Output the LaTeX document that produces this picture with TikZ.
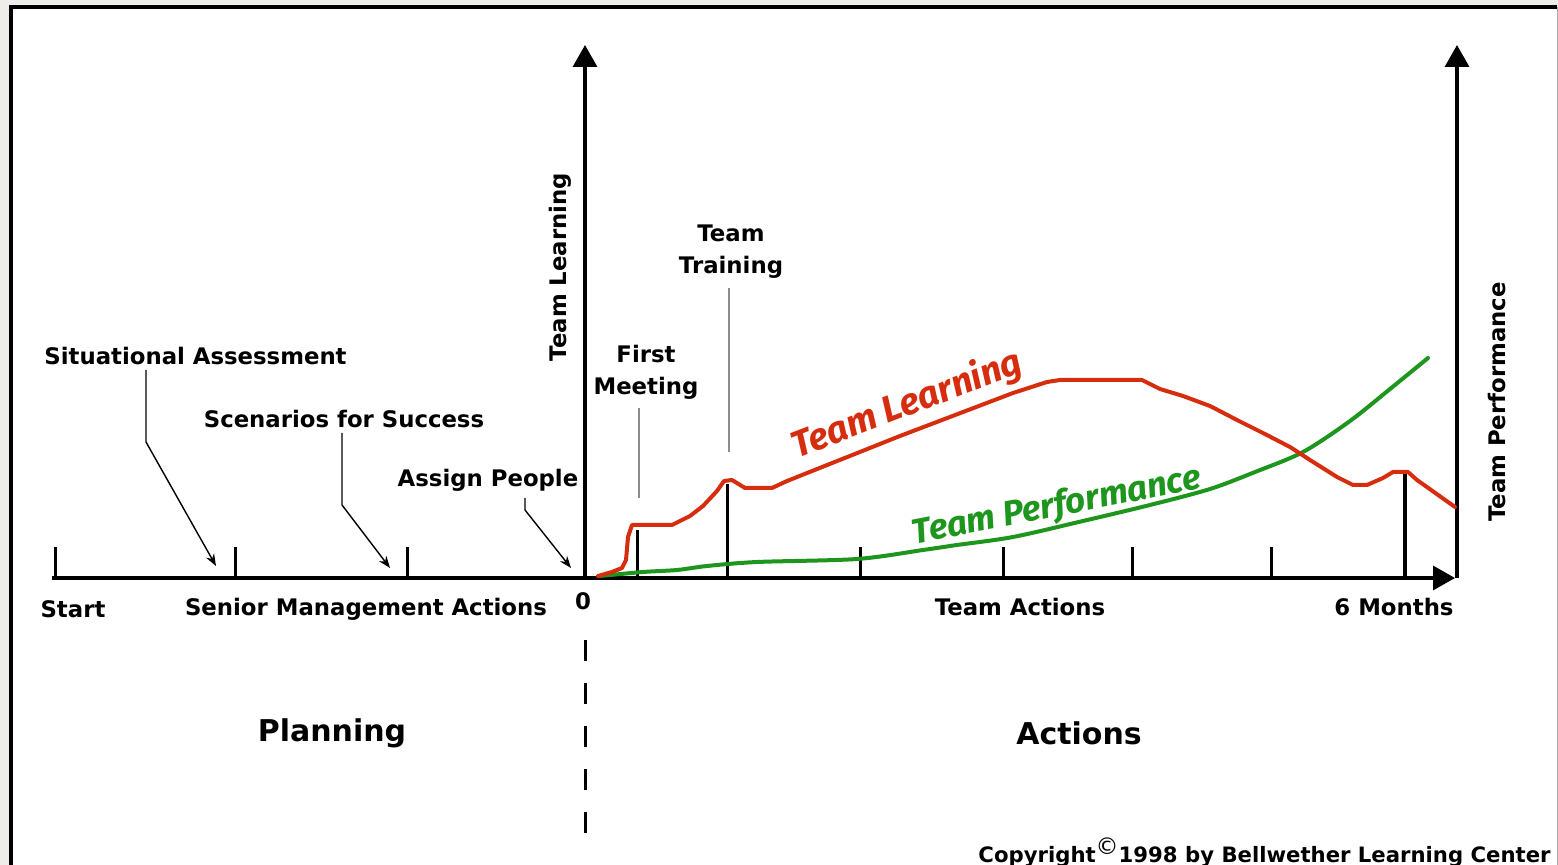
\documentclass[tikz,border=0pt]{standalone}
\usepackage{fontspec}
\setmainfont{DejaVu Sans}
\newfontfamily\curvefont{Fira Sans}
\usetikzlibrary{arrows.meta}
\definecolor{tlred}{RGB}{215,45,15}
\definecolor{tpgreen}{RGB}{30,150,30}
\definecolor{bggray}{RGB}{238,237,234}
\definecolor{callgray}{RGB}{140,140,140}
\begin{document}
\begin{tikzpicture}[x=0.5pt,y=-0.5pt,
  lbl/.style={font=\fontsize{11.4}{16}\selectfont\bfseries, inner sep=0pt, align=center},
  big/.style={font=\fontsize{15}{18}\selectfont\bfseries, inner sep=0pt},
  axis/.style={line width=1.7pt},
  axhead/.style={-{Triangle[length=11pt,width=12pt]}},
  tickmark/.style={line width=1.5pt},
  callout/.style={line width=0.7pt, -{Stealth[length=6pt,width=4.5pt]}},
  grayline/.style={callgray, line width=1pt},
  curvelbl/.style={font=\curvefont\fontsize{18.5}{20}\selectfont\bfseries\itshape, inner sep=0pt},
  curve/.style={line width=2pt, line join=round, line cap=round},
]
\useasboundingbox (0,0) rectangle (1558,865);
\fill[bggray] (0,0) rectangle (1558,865);
\fill[white] (11,7) rectangle (1557,865);
\draw[line width=2pt] (10.7,865) -- (10.7,6.7) -- (1557,6.7);
\draw[gray!70, line width=0.5pt] (1557,6.7) -- (1557,865);

% axes
\coordinate (xstart) at (52,578);
\coordinate (xend) at (1455,578);
\coordinate (yl0) at (585,578);
\coordinate (yltop) at (585,45);
\coordinate (yr0) at (1457,578);
\coordinate (yrtop) at (1457,45);
\draw[axis,axhead] (xstart) -- (xend);
\draw[axis,axhead] (yl0) -- (yltop);
\draw[axis,axhead] (yr0) -- (yrtop);

% dashed divider
\coordinate (dtop) at (585,640);
\coordinate (dbot) at (585,840);
\draw[line width=1.5pt, dash pattern=on 10.5pt off 11pt] (dtop) -- (dbot);

% ticks
\foreach \x/\t in {55.5/547, 235/547, 407/547, 860/547, 1003/547, 1132/547, 1271/547, 637/530, 727/484}
  \draw[tickmark] (\x,578) -- (\x,\t);
\draw[line width=2.2pt] (1405,578) -- (1405,473);

% curves
\draw[curve, tpgreen] plot[smooth, tension=0.5] coordinates {(600,576) (643,572) (677,570) (707,566) (757,562) (857,559) (923,550) (957,545) (1013,537) (1083,521) (1150,505) (1210,489) (1255,472) (1303,452) (1350,421) (1390,389) (1428,358)};
\draw[curve, tlred] (598,576) -- (612,572) -- (622,568) -- (626,560) -- (628,537) -- (632,525) -- (672,525) -- (690,516) -- (703,506) -- (717,491) -- (724,481) -- (732,480) -- (745,488) -- (772,488) -- (787,481) -- (900,436) -- (1013,393) -- (1047,382) -- (1060,380) -- (1142,380) -- (1160,389) -- (1183,396) -- (1210,406) -- (1237,420) -- (1263,433) -- (1290,447) -- (1310,460) -- (1337,477) -- (1353,485) -- (1367,485) -- (1383,478) -- (1393,472) -- (1408,472) -- (1417,480) -- (1455,507);

\node[curvelbl, tlred, rotate=21] (tlcurve) at (907,405) {Team Learning};
\node[curvelbl, tpgreen, rotate=11, font=\curvefont\fontsize{17.5}{20}\selectfont\bfseries\itshape] (tpcurve) at (1057,507) {Team Performance};

% axis labels
\node[lbl, rotate=90] (ylab1) at (560,267) {Team Learning};
\node[lbl, rotate=90] (ylab2) at (1497,402) {Team Performance};
\node[lbl] (start) at (73,609) {Start};
\node[lbl] (sma) at (366,609) {Senior Management Actions};
\node[lbl] (zero) at (583,601) {0};
\node[lbl] (tact) at (1020,607) {Team Actions};
\node[lbl] (six) at (1394,607) {6 Months};
\node[big] (plan) at (332,733) {Planning};
\node[big] (act) at (1079,733) {Actions};

% event labels
\node[lbl, anchor=west] (sa) at (44,356) {Situational Assessment};
\node[lbl] (sfs) at (344,419) {Scenarios for Success};
\node[lbl] (ap) at (488,480) {Assign People};
\node[lbl] (fm) at (646,372) {First\\Meeting};
\node[lbl] (tt) at (731,252) {Team\\Training};

% callouts
\coordinate (sa1) at (146,370); \coordinate (sa2) at (146,442); \coordinate (sa3) at (216,566);
\draw[callout] (sa1) -- (sa2) -- (sa3);
\coordinate (sf1) at (342,433); \coordinate (sf2) at (342,505); \coordinate (sf3) at (390,568);
\draw[callout] (sf1) -- (sf2) -- (sf3);
\coordinate (ap1) at (525,498); \coordinate (ap2) at (525,510); \coordinate (ap3) at (571,568);
\draw[callout] (ap1) -- (ap2) -- (ap3);
\coordinate (fm1) at (639,408); \coordinate (fm2) at (639,498);
\draw[grayline] (fm1) -- (fm2);
\coordinate (tt1) at (729,288); \coordinate (tt2) at (729,452);
\draw[grayline] (tt1) -- (tt2);

% copyright
\node[font=\fontsize{10.6}{12}\selectfont\bfseries, inner sep=0pt, anchor=east] (copy) at (1551,852)
  {Copyright\raisebox{4pt}{\fontsize{11.5}{11}\selectfont\mdseries ©}1998 by Bellwether Learning Center};
\end{tikzpicture}
\end{document}
